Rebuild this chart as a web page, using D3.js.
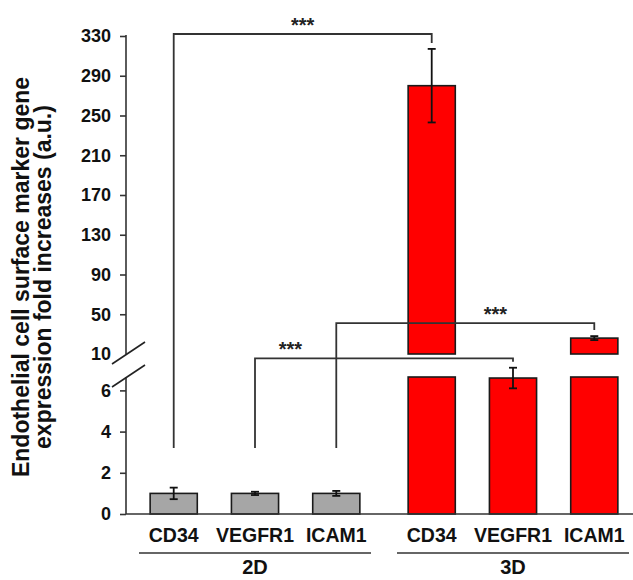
<!DOCTYPE html>
<html>
<head>
<meta charset="utf-8">
<script src="https://cdn.jsdelivr.net/npm/d3@7"></script>
<style>
  body { margin: 0; background: #fff; }
  svg { display: block; font-family: "Liberation Sans", Arial, sans-serif; }
</style>
</head>
<body>
<svg id="chart" width="633" height="580"></svg>
<script>
// chart values
const groups = ["2D", "3D"];
const markers = ["CD34", "VEGFR1", "ICAM1"];
const means2D = [1.0, 1.0, 1.0];
const errors2D = [0.28, 0.08, 0.12];
const means3D = [280, 6.6, 26];
const errors3D = [37, 0.5, 2];
const upperTicks = [10, 50, 90, 130, 170, 210, 250, 290, 330];
const lowerTicks = [0, 2, 4, 6];
const sigLabels = ["***", "***", "***"];

// layout
const axisX = 126;
const breakLow = 6.65;   // top of the lower segment
const breakHigh = 10;    // bottom of the upper segment
const colors = {"2D": "#a6a6a6", "3D": "#ff0000"};
const ink = "#333333";

const svg = d3.select("#chart");

const yUpper = d3.scaleLinear().domain([breakHigh, 330]).range([354, 36]);
const yLower = d3.scaleLinear().domain([0, breakLow]).range([514, 377]);

const x0 = d3.scaleBand().domain(groups).range([axisX, 642]);
const x1 = d3.scaleBand().domain(markers).range([0, x0.bandwidth()])
    .paddingInner(0.42).paddingOuter(0.297);
const cx = (g, m) => x0(g) + x1(m) + x1.bandwidth() / 2;

// rows: one per bar
const rows = [];
groups.forEach(function(g){
    const means = g === "2D" ? means2D : means3D;
    const errs = g === "2D" ? errors2D : errors3D;
    markers.forEach(function(m, i){
        rows.push({group: g, marker: m, value: means[i], err: errs[i]});
    });
});

/**
 * y axis in two segments with a break
 */
const axisG = svg.append("g").attr("class", "y-axis");

const upperAxis = d3.axisLeft(yUpper).tickValues(upperTicks).tickFormat(d3.format("d")).tickSize(6).tickPadding(9);
const lowerAxis = d3.axisLeft(yLower).tickValues(lowerTicks).tickFormat(d3.format("d")).tickSize(6).tickPadding(9);

[upperAxis, lowerAxis].forEach(function(ax){
    const g = axisG.append("g").attr("transform", `translate(${axisX},0)`).call(ax);
    g.select(".domain").remove();
    g.selectAll(".tick line").attr("stroke", ink).attr("stroke-width", 1.6);
    g.selectAll(".tick text").attr("fill", "#111").attr("font-family", "Liberation Sans, Arial, sans-serif")
        .attr("font-size", 18).attr("font-weight", "bold");
});
// hide the 10 tick mark, it sits under the break
axisG.selectAll(".tick").filter(d => d === breakHigh).select("line").remove();

axisG.append("line")
    .attr("x1", axisX).attr("x2", axisX)
    .attr("y1", yUpper(330) - 1).attr("y2", yUpper(breakHigh))
    .attr("stroke", ink).attr("stroke-width", 1.6);
axisG.append("line")
    .attr("x1", axisX).attr("x2", axisX)
    .attr("y1", yLower(breakLow)).attr("y2", yLower(0))
    .attr("stroke", ink).attr("stroke-width", 1.6);

// break slashes
[yUpper(breakHigh), yLower(breakLow)].forEach(function(yy){
    axisG.append("line")
        .attr("x1", axisX - 14).attr("y1", yy + 10)
        .attr("x2", axisX + 19).attr("y2", yy - 12)
        .attr("stroke", "#222").attr("stroke-width", 1.6);
});

/**
 * bars, split into two pieces when they cross the break
 */
const barG = svg.append("g").attr("class", "bars");
rows.forEach(function(d){
    const left = x0(d.group) + x1(d.marker);
    const pieces = d.value > breakLow
        ? [[0, breakLow, yLower], [breakHigh, d.value, yUpper]]
        : [[0, d.value, yLower]];
    pieces.forEach(function(p){
        barG.append("rect")
            .attr("x", left)
            .attr("y", p[2](p[1]))
            .attr("width", x1.bandwidth())
            .attr("height", p[2](p[0]) - p[2](p[1]))
            .attr("fill", colors[d.group])
            .attr("stroke", "#1a1a1a")
            .attr("stroke-width", 1.6);
    });
});

// x axis line
svg.append("line")
    .attr("x1", axisX).attr("x2", 633)
    .attr("y1", yLower(0)).attr("y2", yLower(0))
    .attr("stroke", ink).attr("stroke-width", 1.6);

/**
 * error bars
 */
const errG = svg.append("g").attr("class", "errors").attr("stroke", "#111").attr("stroke-width", 1.8);
const scaleFor = d => d.value > breakLow ? yUpper : yLower;
rows.forEach(function(d){
    const s = scaleFor(d);
    const c = cx(d.group, d.marker);
    const top = s(d.value + d.err), bottom = s(d.value - d.err);
    errG.append("line").attr("x1", c).attr("x2", c).attr("y1", top).attr("y2", bottom);
    [top, bottom].forEach(function(yy){
        errG.append("line").attr("x1", c - 4).attr("x2", c + 4).attr("y1", yy).attr("y2", yy);
    });
    d.errTop = top;
});

/**
 * significance brackets between 2D and 3D of the same marker
 */
const bracketLevels = [yUpper(332), yLower(7.55), yUpper(41)];
const bracketFoot = yLower(3.2);
const starPos = [0.5, 0.137, 0.617];
const bracketG = svg.append("g").attr("class", "brackets");
markers.forEach(function(m, i){
    const xa = cx("2D", m), xb = cx("3D", m);
    const lvl = bracketLevels[i];
    const end = rows.find(r => r.group === "3D" && r.marker === m).errTop - 6;
    bracketG.append("path")
        .attr("d", `M${xa},${bracketFoot}V${lvl}H${xb}V${end}`)
        .attr("fill", "none").attr("stroke", ink).attr("stroke-width", 1.8);
    bracketG.append("text")
        .attr("x", xa + (xb - xa) * starPos[i])
        .attr("y", lvl - 2)
        .attr("text-anchor", "middle")
        .attr("font-size", 20).attr("font-weight", "bold").attr("fill", "#222")
        .text(sigLabels[i]);
});

/**
 * category and group labels
 */
const labelG = svg.append("g").attr("class", "x-labels").attr("font-weight", "bold").attr("fill", "#111");
rows.forEach(function(d){
    labelG.append("text")
        .attr("x", cx(d.group, d.marker)).attr("y", 542)
        .attr("text-anchor", "middle").attr("font-size", 19.5)
        .text(d.marker);
});
groups.forEach(function(g){
    labelG.append("line")
        .attr("x1", x0(g) + 13).attr("x2", x0(g) + x0.bandwidth() - 13)
        .attr("y1", 553).attr("y2", 553)
        .attr("stroke", ink).attr("stroke-width", 1.6);
    labelG.append("text")
        .attr("x", x0(g) + x0.bandwidth() / 2).attr("y", 574)
        .attr("text-anchor", "middle").attr("font-size", 20)
        .text(g);
});

// y axis title
const title = svg.append("text")
    .attr("transform", "translate(29,277) rotate(-90)")
    .attr("text-anchor", "middle")
    .attr("font-size", 23).attr("font-weight", "bold").attr("fill", "#111");
title.append("tspan").attr("x", 0).attr("dy", 0).text("Endothelial cell surface marker gene");
title.append("tspan").attr("x", 0).attr("dy", 22).text("expression fold increases (a.u.)");
</script>
</body>
</html>
